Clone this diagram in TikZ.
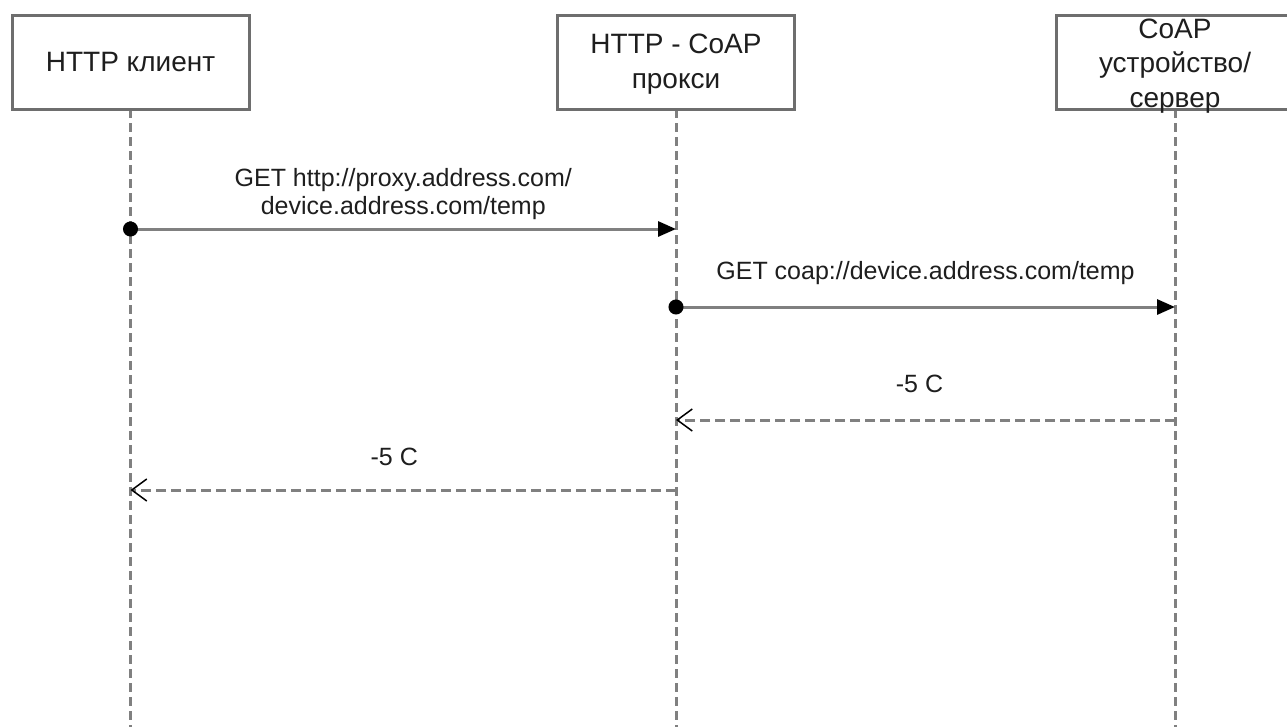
\documentclass[tikz,border=0pt]{standalone}
\usepackage{fontspec}
\setmainfont{Liberation Sans}
\usetikzlibrary{positioning, arrows.meta}
\definecolor{linegray}{HTML}{808080}
\definecolor{boxgray}{HTML}{6E6E6E}
\definecolor{textgray}{HTML}{1E1E1E}
\tikzset{>=latex}
\tikzset{
    actor/.style = {rectangle, draw=boxgray, fill=white, line width=3pt, minimum width=237pt,
                        minimum height=94pt, inner sep=0pt, align=center, text=textgray,
                        font=\fontsize{28}{34}\selectfont},
    actortext/.style = {align=center, text=textgray, inner sep=0pt, font=\fontsize{28}{34.5}\selectfont},
    lifeline/.style = {draw=linegray, line width=3pt, dash pattern=on 9pt off 5pt},
    request/.style = {draw=linegray, line width=3pt, shorten <=-7.5pt,
                        {Circle[black,length=15pt]}-{Triangle[black,length=18pt,width=15pt]}},
    reply/.style = {draw=linegray, line width=3pt, dash pattern=on 10pt off 5pt,
                        -{Straight Barb[black,length=15pt,width=22pt,line width=1.5pt]}},
    msg/.style = {align=center, text=textgray, inner sep=0pt, font=\fontsize{25}{27.5}\selectfont}
}

\begin{document}
\begin{tikzpicture}[x=1pt, y=-1pt]
		\clip (0,0) rectangle (1287,726);
		\coordinate (bottom) at (0,730);
		% lifelines first, boxes over them
		\coordinate (client top) at (130.5,109);
		\coordinate (proxy top) at (676,109);
		\coordinate (server top) at (1175,109);
		\draw [lifeline] (client top) -- (client top |- bottom);
		\draw [lifeline] (proxy top) -- (proxy top |- bottom);
		\draw [lifeline] (server top) -- (server top |- bottom);
		\node (client) [actor] at (130.5,62) {HTTP клиент};
		\node (proxy) [actor] at (676,62) {};
		\node (proxy name) [actortext, yshift=-2pt] at (proxy.center) {HTTP - CoAP\\прокси};
		\node (server) [actor] at (1175,62) {};
		\node (server name) [actortext, yshift=-4pt] at (server.center) {CoAP\\устройство/\\сервер};
		% messages
		\coordinate (m1) at (0,229);
		\coordinate (m2) at (0,307);
		\coordinate (m3) at (0,420);
		\coordinate (m4) at (0,490);
		\draw [request] (client |- m1) to node[msg, above=8pt] {GET http://proxy.address.com/\\device.address.com/temp} (proxy |- m1);
		\draw [request] (proxy |- m2) to node[msg, above=21pt] {GET coap://device.address.com/temp} (server |- m2);
		\draw [reply] (server |- m3) to node[msg, above=26pt, xshift=-6pt] {-5 C} (proxy |- m3);
		\draw [reply] (proxy |- m4) to node[msg, above=23pt, xshift=-9pt] {-5 C} (client |- m4);
	\end{tikzpicture}
\end{document}
